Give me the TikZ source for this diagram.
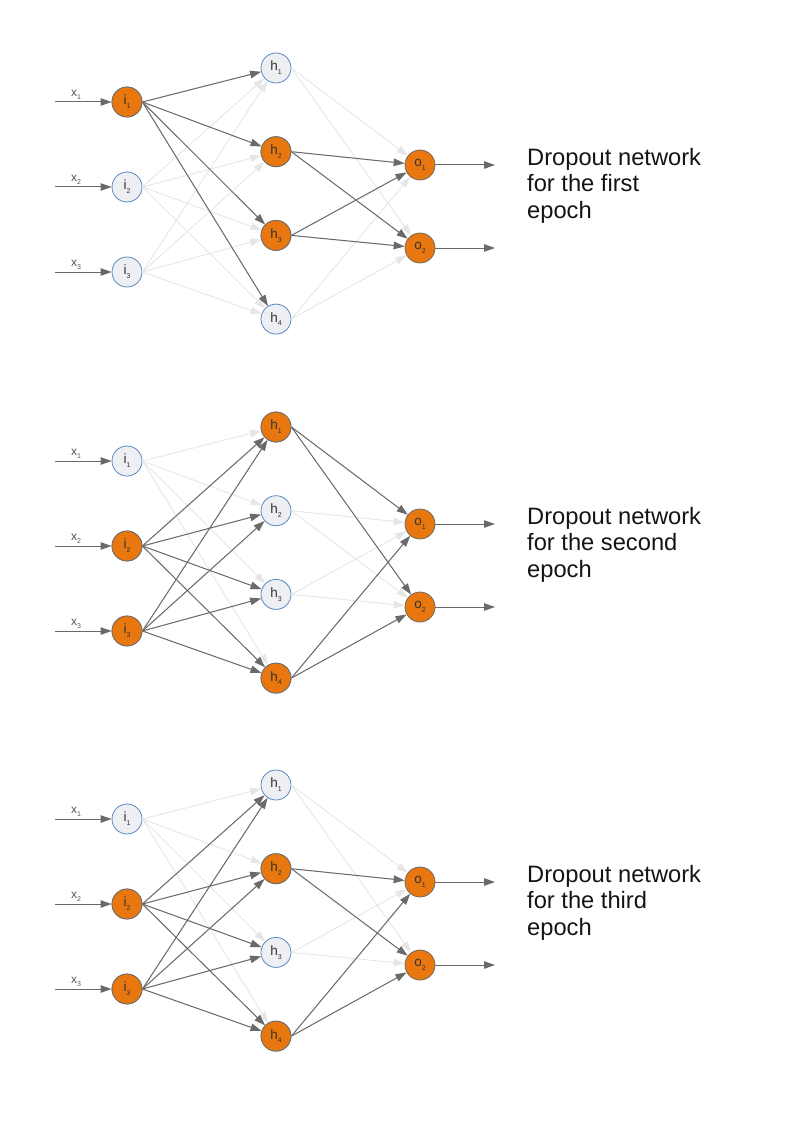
\documentclass[tikz,border=0pt]{standalone}
\usepackage{fontspec}
\setmainfont{Liberation Sans}
\usetikzlibrary{arrows.meta}

\definecolor{unitorange}{HTML}{E8770F}
\definecolor{unitrim}{HTML}{6F6A66}
\definecolor{offfill}{HTML}{EEEFF2}
\definecolor{offrim}{HTML}{5A88C2}
\definecolor{linkdark}{HTML}{6A6A6A}
\definecolor{linklight}{HTML}{E6E6E6}
\definecolor{labelgray}{HTML}{555555}

\newcommand{\unitlab}[2]{#1\raisebox{-0.55ex}{\fontsize{7}{7}\selectfont #2}}

\begin{document}
\begin{tikzpicture}[
  x=1pt, y=-1pt,
  on_unit/.style={circle, minimum size=30pt, inner sep=0pt, fill=unitorange, draw=unitrim, line width=0.8pt, font=\fontsize{13.5}{13.5}\selectfont, text=black!80},
  off_unit/.style={circle, minimum size=30pt, inner sep=0pt, fill=offfill, draw=offrim, line width=0.8pt, font=\fontsize{13.5}{13.5}\selectfont, text=black!80},
  on_link/.style={draw=linkdark, line width=1pt, -{Triangle[length=11pt,width=7.5pt]}},
  off_link/.style={draw=linklight, line width=0.9pt, -{Triangle[length=11pt,width=7.5pt]}},
  in_label/.style={font=\fontsize{12}{12}\selectfont, text=labelgray, inner sep=0pt},
  caption_text/.style={align=left, anchor=north west, inner sep=0pt, text=black!92, font=\fontsize{23.7}{26.5}\selectfont},
]
\useasboundingbox (0,0) rectangle (794,1123);

\foreach \n/\dy/\ins/\hids/\ep in {a/0/{1}/{2,3}/first, b/359/{2,3}/{1,4}/second, c/717/{2,3}/{2,4}/third}{
\begin{scope}[shift={(0,\dy)}]
  % units
  \foreach \k in {1,2,3} \node[off_unit] (\n-i\k) at (127,17+85*\k) {\unitlab{i}{\k}};
  \foreach \k in \ins \node[on_unit] (\n-i\k) at (127,17+85*\k) {\unitlab{i}{\k}};
  \foreach \j in {1,...,4} \node[off_unit] (\n-h\j) at (276,-15.7+83.7*\j) {\unitlab{h}{\j}};
  \foreach \j in \hids \node[on_unit] (\n-h\j) at (276,-15.7+83.7*\j) {\unitlab{h}{\j}};
  \foreach \m in {1,2} \node[on_unit] (\n-o\m) at (420,82+83*\m) {\unitlab{o}{\m}};
  % inputs and outputs
  \foreach \k in {1,2,3} {
    \coordinate (\n-x\k) at (55,17+85*\k);
    \draw[on_link] (\n-x\k) -- (\n-i\k);
    \node[in_label] (\n-xl\k) at (76,10+85*\k) {\unitlab{x}{\k}};
  }
  \foreach \m in {1,2} {
    \coordinate (\n-y\m) at (495,82+83*\m);
    \draw[on_link] (\n-o\m) -- (\n-y\m);
  }
  % dropped links first, kept links on top
  \foreach \k in {1,2,3} \foreach \j in {1,...,4} \draw[off_link] (\n-i\k.east) -- (\n-h\j);
  \foreach \j in {1,...,4} \foreach \m in {1,2} \draw[off_link] (\n-h\j.east) -- (\n-o\m);
  \foreach \k in \ins \foreach \j in {1,...,4} \draw[on_link] (\n-i\k.east) -- (\n-h\j);
  \foreach \j in \hids \foreach \m in {1,2} \draw[on_link] (\n-h\j.east) -- (\n-o\m);
  \node[caption_text] (\n-cap) at (527,148) {Dropout network\\for the \ep\\epoch};
\end{scope}
}
\end{tikzpicture}
\end{document}
